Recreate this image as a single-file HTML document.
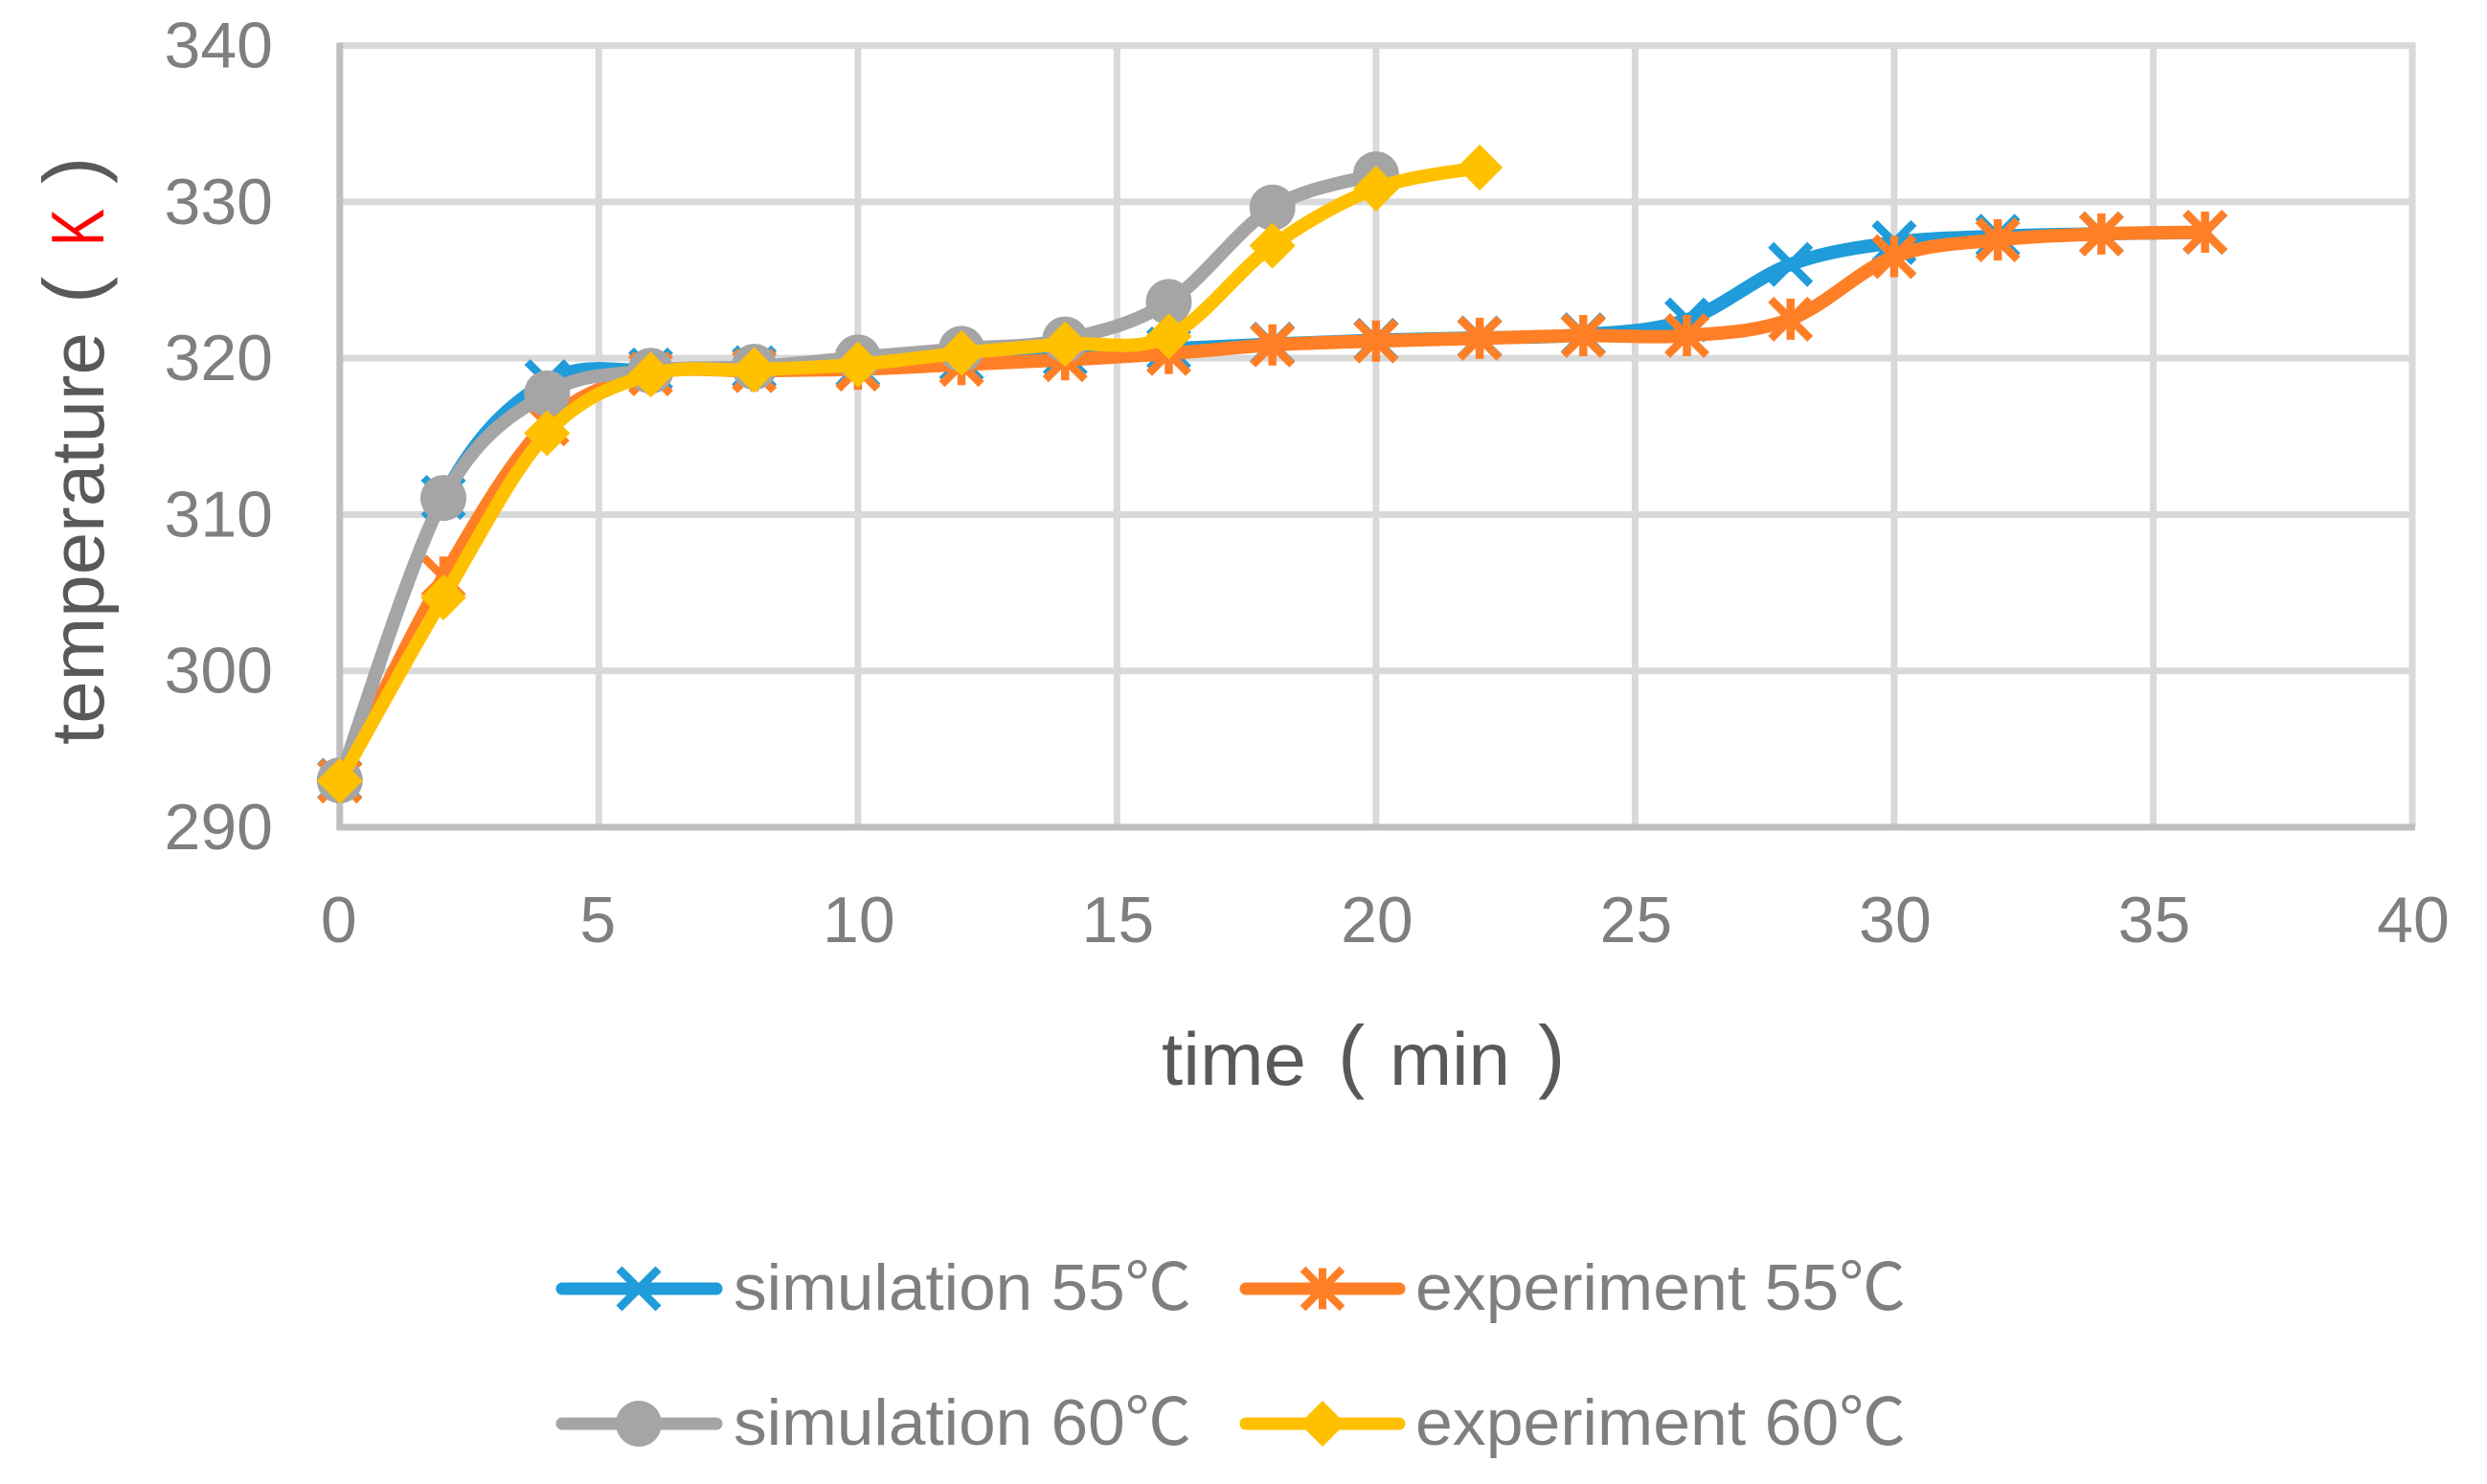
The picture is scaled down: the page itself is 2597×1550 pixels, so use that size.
<!DOCTYPE html>
<html>
<head>
<meta charset="utf-8">
<title>temperature vs time</title>
<style>
html,body{margin:0;padding:0;background:#fff;}
svg{display:block;font-family:"Liberation Sans","Noto Sans CJK SC",sans-serif;}
.tick{font-size:68px;fill:#7f7f7f;}
.title{font-size:78px;fill:#595959;}
.paren{font-size:85px;fill:#595959;}
.leg{font-size:68px;fill:#7f7f7f;}
</style>
</head>
<body>
<svg id="chart" xmlns="http://www.w3.org/2000/svg" width="2597" height="1550" viewBox="0 0 2597 1550">
  <rect x="0" y="0" width="2597" height="1550" fill="#ffffff"/>
  <g id="grid"></g>
  <g id="axes"></g>
  <g id="series"></g>
  <g id="labels"></g>

  <g>
    <text class="title" x="1213" y="1133" textLength="151" lengthAdjust="spacingAndGlyphs">time</text>
    <text class="paren" x="1397" y="1131">(</text>
    <text class="title" x="1451" y="1133" textLength="126" lengthAdjust="spacingAndGlyphs">min</text>
    <text class="paren" x="1606" y="1131">)</text>
  </g>
  <g transform="translate(108 778) rotate(-90)">
    <text class="title" x="0" y="0" textLength="431" lengthAdjust="spacingAndGlyphs">temperature</text>
    <text class="paren" x="461" y="-3">(</text>
    <text x="521" y="0" font-size="78" fill="#ff0000" textLength="39" lengthAdjust="spacingAndGlyphs">K</text>
    <text class="paren" x="586" y="-3">)</text>
  </g>

  <g>
    <g>
      <line x1="587" y1="1346" x2="748" y2="1346" stroke="#1f9cd9" stroke-width="13" stroke-linecap="round"/>
      <path d="M646.5 1325.5L687.5 1366.5M646.5 1366.5L687.5 1325.5" stroke="#1f9cd9" stroke-width="8.5" fill="none"/>
      <text class="leg" x="766" y="1368" textLength="478" lengthAdjust="spacingAndGlyphs">simulation 55℃</text>
    </g>
    <g>
      <line x1="1301" y1="1346" x2="1461" y2="1346" stroke="#ff7f27" stroke-width="13" stroke-linecap="round"/>
      <path d="M1360.5 1325.5L1401.5 1366.5M1360.5 1366.5L1401.5 1325.5M1381 1324.5V1367.5" stroke="#ff7f27" stroke-width="8" fill="none"/>
      <text class="leg" x="1478" y="1368" textLength="512" lengthAdjust="spacingAndGlyphs">experiment 55℃</text>
    </g>
    <g>
      <line x1="587" y1="1487" x2="748" y2="1487" stroke="#a5a5a5" stroke-width="13" stroke-linecap="round"/>
      <circle cx="667" cy="1487" r="24" fill="#a5a5a5"/>
      <text class="leg" x="766" y="1509" textLength="478" lengthAdjust="spacingAndGlyphs">simulation 60℃</text>
    </g>
    <g>
      <line x1="1301" y1="1487" x2="1461" y2="1487" stroke="#ffc000" stroke-width="13" stroke-linecap="round"/>
      <path d="M1381 1463L1405 1487L1381 1511L1357 1487Z" fill="#ffc000"/>
      <text class="leg" x="1478" y="1509" textLength="512" lengthAdjust="spacingAndGlyphs">experiment 60℃</text>
    </g>
  </g>
</svg>

<script>
var xTicks = [0, 5, 10, 15, 20, 25, 30, 35, 40];
var yTicks = [290, 300, 310, 320, 330, 340];

var time55 = [0, 2, 4, 6, 8, 10, 12, 14, 16, 18, 20, 22, 24, 26, 28, 30, 32, 34, 36];
var time60sim = [0, 2, 4, 6, 8, 10, 12, 14, 16, 18, 20];
var time60exp = [0, 2, 4, 6, 8, 10, 12, 14, 16, 18, 20, 22];

var simulation55 = [293, 311.1, 318.5, 319.25, 319.4, 319.45, 319.85, 320.2, 320.6, 320.9, 321.15, 321.3, 321.5, 322.45, 326.0, 327.4, 327.8, 327.96, 328.05];
var experiment55 = [292.95, 306.0, 315.8, 319.0, 319.2, 319.3, 319.6, 319.9, 320.3, 320.85, 321.1, 321.27, 321.45, 321.45, 322.5, 326.5, 327.57, 327.95, 328.06];
var simulation60 = [293, 311.06, 317.75, 319.2, 319.45, 320.05, 320.6, 321.2, 323.6, 329.64, 331.76];
var experiment60 = [292.96, 304.7, 315.2, 318.95, 319.25, 319.6, 320.33, 320.9, 321.4, 327.2, 330.86, 332.2];

var NS = 'http://www.w3.org/2000/svg';
var plotLeft = 354.8, plotRight = 2519, plotTop = 47.6, plotBottom = 864;

function xScale(t) {
  return plotLeft + (t - xTicks[0]) / (xTicks[xTicks.length - 1] - xTicks[0]) * (plotRight - plotLeft);
}
function yScale(v) {
  return plotBottom - (v - yTicks[0]) / (yTicks[yTicks.length - 1] - yTicks[0]) * (plotBottom - plotTop);
}
function make(tag, attrs, parent) {
  var el = document.createElementNS(NS, tag);
  for (var k in attrs) { el.setAttribute(k, attrs[k]); }
  parent.appendChild(el);
  return el;
}
function smoothPath(pts) {
  var d = 'M' + pts[0][0].toFixed(2) + ' ' + pts[0][1].toFixed(2);
  for (var i = 0; i < pts.length - 1; i++) {
    var p0 = pts[Math.max(i - 1, 0)], p1 = pts[i], p2 = pts[i + 1], p3 = pts[Math.min(i + 2, pts.length - 1)];
    var c1x = p1[0] + (p2[0] - p0[0]) / 6, c1y = p1[1] + (p2[1] - p0[1]) / 6;
    var c2x = p2[0] - (p3[0] - p1[0]) / 6, c2y = p2[1] - (p3[1] - p1[1]) / 6;
    d += 'C' + c1x.toFixed(2) + ' ' + c1y.toFixed(2) + ' ' + c2x.toFixed(2) + ' ' + c2y.toFixed(2) + ' ' + p2[0].toFixed(2) + ' ' + p2[1].toFixed(2);
  }
  return d;
}

var grid = document.getElementById('grid');
var axes = document.getElementById('axes');
var labels = document.getElementById('labels');
var layer = document.getElementById('series');

yTicks.forEach(function (v) {
  var y = yScale(v);
  if (v !== yTicks[0]) {
    var g = make('line', {x1: plotLeft, x2: plotRight + 3, y1: y, y2: y, stroke: '#d9d9d9', 'stroke-width': 7}, grid);
    
    
  }
  var t = make('text', {x: 285, y: y + 23, 'text-anchor': 'end', 'class': 'tick'}, labels);
  t.textContent = v;
  
  
});

xTicks.forEach(function (v) {
  var x = xScale(v);
  if (v !== xTicks[0]) {
    var g = make('line', {x1: x, x2: x, y1: plotTop - 3, y2: plotBottom, stroke: '#d9d9d9', 'stroke-width': 7}, grid);
    
    
  }
  var t = make('text', {x: x + (v < 10 ? -1 : 1), y: 984, 'text-anchor': 'middle', 'class': 'tick'}, labels);
  t.textContent = v;
  
  
});

var yAxisLine = make('line', {x1: plotLeft, x2: plotLeft, y1: plotTop - 3, y2: plotBottom + 3, stroke: '#bfbfbf', 'stroke-width': 7}, axes);


var xAxisLine = make('line', {x1: plotLeft - 3, x2: plotRight + 3, y1: plotBottom, y2: plotBottom, stroke: '#bfbfbf', 'stroke-width': 7}, axes);



function drawMarker(kind, x, y, color, parent) {
  var h = 20.5, r = 24, d;
  if (kind === 'circle') {
    return make('circle', {cx: x, cy: y, r: r, fill: color}, parent);
  }
  if (kind === 'diamond') {
    d = 'M' + x + ' ' + (y - r) + 'L' + (x + r) + ' ' + y + 'L' + x + ' ' + (y + r) + 'L' + (x - r) + ' ' + y + 'Z';
    return make('path', {d: d, fill: color}, parent);
  }
  d = 'M' + (x - h) + ' ' + (y - h) + 'L' + (x + h) + ' ' + (y + h) + 'M' + (x - h) + ' ' + (y + h) + 'L' + (x + h) + ' ' + (y - h);
  if (kind === 'star') {
    d += 'M' + x + ' ' + (y - 21.5) + 'L' + x + ' ' + (y + 21.5);
  }
  return make('path', {d: d, fill: 'none', stroke: color, 'stroke-width': 8.5}, parent);
}

function drawSeries(name, times, values, color, kind) {
  var group = make('g', {}, layer);
  
  
  var pts = times.map(function (t, i) { return [xScale(t), yScale(values[i])]; });
  var line = make('path', {d: smoothPath(pts), fill: 'none', stroke: color, 'stroke-width': 14, 'stroke-linecap': 'round', 'stroke-linejoin': 'round'}, group);
  
  
  pts.forEach(function (p, i) {
    var m = drawMarker(kind, p[0], p[1], color, group);
    
    
  });
}

drawSeries('simulation-55', time55, simulation55, '#1f9cd9', 'cross');
drawSeries('experiment-55', time55, experiment55, '#ff7f27', 'star');
drawSeries('simulation-60', time60sim, simulation60, '#a5a5a5', 'circle');
drawSeries('experiment-60', time60exp, experiment60, '#ffc000', 'diamond');
</script>
</body>
</html>
